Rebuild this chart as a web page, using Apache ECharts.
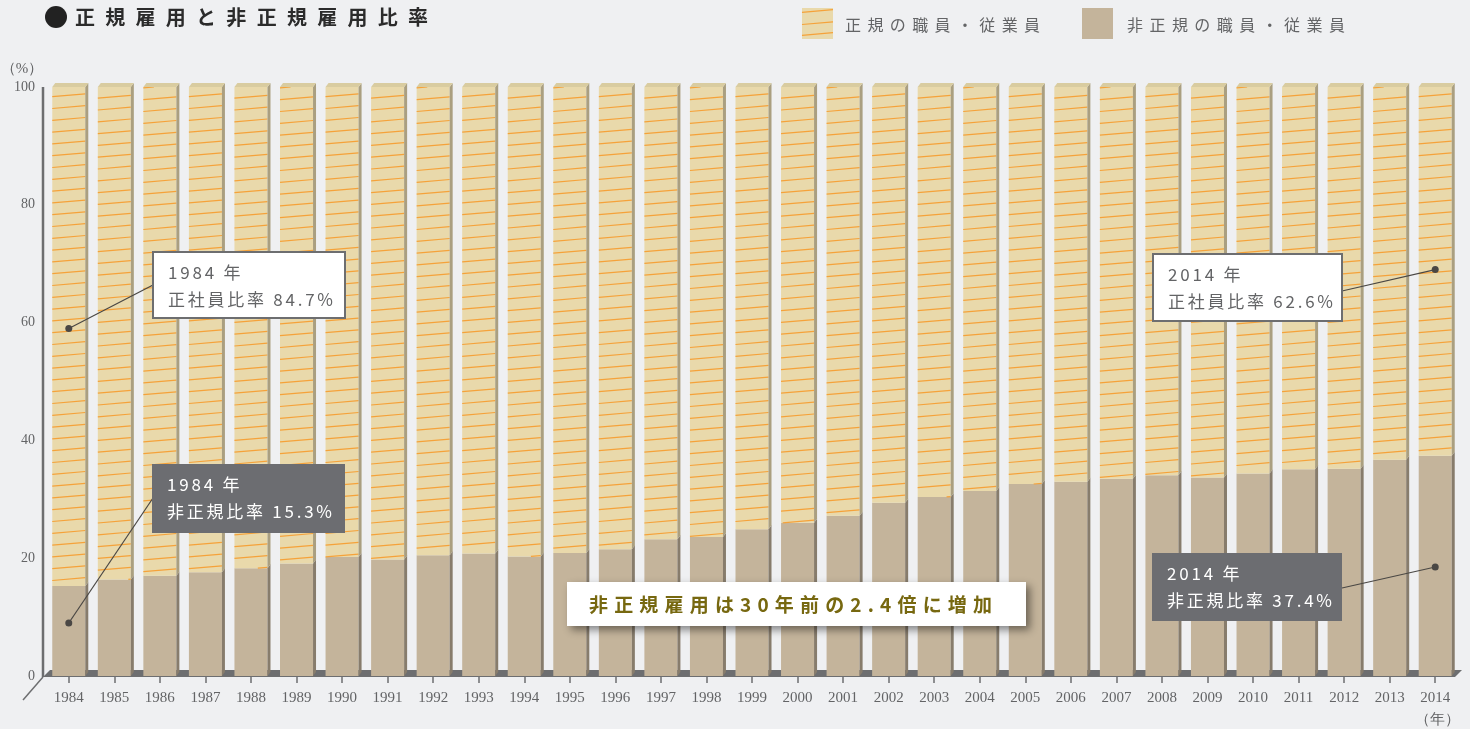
<!DOCTYPE html>
<html>
<head>
<meta charset="utf-8">
<script src="https://cdn.jsdelivr.net/npm/echarts@6/dist/echarts.min.js"></script>
<style>
html,body{margin:0;padding:0;background:#eff0f2;}
#chart{width:1470px;height:729px;}
</style>
</head>
<body>
<div id="chart"></div>
<script>
// ---------- DATA ----------
const titleText = '正規雇用と非正規雇用比率';
const seriesNames = ['正規の職員・従業員', '非正規の職員・従業員'];
const years = ['1984','1985','1986','1987','1988','1989','1990','1991','1992','1993','1994','1995','1996','1997','1998','1999','2000','2001','2002','2003','2004','2005','2006','2007','2008','2009','2010','2011','2012','2013','2014'];
const nonRegular = [15.3,16.4,17.0,17.6,18.3,19.1,20.2,19.8,20.5,20.8,20.3,20.9,21.5,23.2,23.6,24.9,26.0,27.2,29.4,30.4,31.4,32.6,33.0,33.5,34.1,33.7,34.4,35.1,35.2,36.7,37.4];
const regular    = [84.7,83.6,83.0,82.4,81.7,80.9,79.8,80.2,79.5,79.2,79.7,79.1,78.5,76.8,76.4,75.1,74.0,72.8,70.6,69.6,68.6,67.4,67.0,66.5,65.9,66.3,65.6,64.9,64.8,63.3,62.6];
const yUnit = '（%）';
const xUnit = '（年）';
const calloutText = '非正規雇用は30年前の2.4倍に増加';
// annotation: category index, value where the pointer dot sits, texts
const annotations = [
  {cat: 0,  dot: 59,   lines: ['1984 年', '正社員比率 ' + regular[0].toFixed(1) + '%'], dark: false},
  {cat: 0,  dot: 9,    lines: ['1984 年', '非正規比率 ' + nonRegular[0].toFixed(1) + '%'], dark: true},
  {cat: 30, dot: 69,   lines: ['2014 年', '正社員比率 ' + regular[30].toFixed(1) + '%'], dark: false},
  {cat: 30, dot: 18.5, lines: ['2014 年', '非正規比率 ' + nonRegular[30].toFixed(1) + '%'], dark: true}
];

// ---------- STYLE / LAYOUT ----------
const C = {
  bg: '#eff0f2', tan: '#c4b49b', tanSide: '#877c6c', yel: '#e9d9ab', yelSide: '#aa9f80',
  yelTop: '#d9cca0', stripe: '#f5a23a', floor: '#6d6e70', text: '#636466', dark: '#6c6d71', olive: '#776810'
};
const JP = "'Noto Sans CJK JP', sans-serif";
const SERIF = "'Liberation Serif', serif";
const STRIPE_GAP = 11.8, STRIPE_SLOPE = 0.085, STRIPE_PHASE = 96.7;
const boxLayout = [
  {x: 153, y: 252, w: 192, h: 66, lx: 153, ly: 285},
  {x: 152, y: 464, w: 193, h: 69, lx: 153, ly: 498},
  {x: 1153, y: 254, w: 189, h: 67, lx: 1342, ly: 291},
  {x: 1152, y: 553, w: 190, h: 68, lx: 1342, ly: 588}
];

function stripes(x, yt, w, yb, phase) {
  const d = w * STRIPE_SLOPE;
  const out = [];
  let yL = phase + Math.ceil((yt - phase) / STRIPE_GAP) * STRIPE_GAP;
  for (; yL <= yb + d; yL += STRIPE_GAP) {
    const t0 = Math.max(0, (yL - yb) / d);
    const t1 = Math.min(1, (yL - yt) / d);
    if (t1 <= t0) continue;
    out.push({type:'line', shape:{x1: x + w*t0, y1: yL - d*t0, x2: x + w*t1, y2: yL - d*t1},
      style:{stroke: C.stripe, lineWidth: 1.2}});
  }
  return out;
}

const mctx = document.createElement('canvas').getContext('2d');
function spaced(str, x, y, size, color, weight, family, targetW, spacing, z) {
  mctx.font = weight + ' ' + size + 'px ' + family;
  const chars = Array.from(str);
  const ws = chars.map(c => mctx.measureText(c).width);
  const sum = ws.reduce((a,b)=>a+b,0);
  const sp = targetW != null ? (targetW - sum) / (chars.length - 1) : spacing;
  const els = [];
  let cx = x;
  chars.forEach((ch,i) => {
    if (ch !== ' ') els.push({type:'text', x: cx, y: y, z: z || 10, silent: true,
      style: {text: ch, fontSize: size, fontWeight: weight, fontFamily: family, fill: color, align: 'left', verticalAlign: 'middle'}});
    cx += ws[i] + sp;
  });
  return els;
}

function barItem(api, base, len, isReg) {
  const i = api.value(0);
  const p0 = api.coord([i, base]);
  const p1 = api.coord([i, base + len]);
  const bw = api.size([1, 0])[0];
  const fw = bw * 0.725;
  const x = p0[0] - fw / 2;
  const yt = p1[1], yb = p0[1];
  let ch = [];
  ch.push({type:'rect', shape:{x:x, y:yt, width:fw, height:yb-yt}, style:{fill: isReg ? C.yel : C.tan}});
  if (isReg) ch = ch.concat(stripes(x, yt, fw, yb, STRIPE_PHASE + (i % 3) * 1.5));
  ch.push({type:'polygon', shape:{points:[[x+fw,yt],[x+fw+3,yt-4],[x+fw+3,yb-4],[x+fw,yb]]}, style:{fill: isReg ? C.yelSide : C.tanSide}});
  if (isReg) ch.push({type:'polygon', shape:{points:[[x,yt],[x+3,yt-4],[x+fw+3,yt-4],[x+fw,yt]]}, style:{fill: C.yelTop}});
  return {type:'group', children: ch};
}

const chart = echarts.init(document.getElementById('chart'));
const option = {
  backgroundColor: C.bg,
  animation: false,
  grid: {left: 46, right: 12, top: 87, bottom: 53},
  xAxis: {
    type: 'category', data: years,
    axisLine: {show: false},
    axisTick: {show: true, alignWithLabel: true, length: 7, lineStyle: {color: C.floor, width: 1.5}},
    axisLabel: {interval: 0, margin: 15, fontFamily: SERIF, fontSize: 15, color: C.text}
  },
  yAxis: {
    type: 'value', min: 0, max: 100, interval: 20,
    splitLine: {show: false}, axisLine: {show: false}, axisTick: {show: false},
    axisLabel: {margin: 11, fontFamily: SERIF, fontSize: 14, color: C.text}
  },
  series: [
    {
      type: 'custom', name: 'floor', silent: true, z: 1,
      data: [[0, 0]], encode: {x: 0, y: 1},
      renderItem: function(params, api) {
        const bw = api.size([1, 0])[0];
        const f = api.coord([0, 0]);
        const l = api.coord([years.length - 1, 0]);
        const top = api.coord([0, 100])[1];
        const yb = f[1];
        const x0 = f[0] - bw/2 - 3;
        const xr = l[0] + bw/2;
        return {type:'group', children:[
          {type:'polygon', shape:{points:[[x0,yb+1],[x0+7,yb-6],[xr+4,yb-6],[xr-3,yb+1]]}, style:{fill:C.floor}},
          {type:'line', shape:{x1:x0, y1:top, x2:x0, y2:yb+1}, style:{stroke:C.floor, lineWidth:2.5}},
          {type:'line', shape:{x1:x0, y1:yb+1, x2:x0-20, y2:yb+24}, style:{stroke:C.floor, lineWidth:1.5}}
        ]};
      }
    },
    {
      type: 'custom', name: seriesNames[1], z: 2, silent: true,
      data: years.map((y, i) => [i, nonRegular[i]]), encode: {x: 0, y: 1},
      renderItem: function(params, api) { return barItem(api, 0, api.value(1), false); }
    },
    {
      type: 'custom', name: seriesNames[0], z: 2, silent: true,
      data: years.map((y, i) => [i, nonRegular[i], regular[i]]), encode: {x: 0, y: [1, 2]},
      renderItem: function(params, api) { return barItem(api, api.value(1), api.value(2), true); }
    }
  ]
};
chart.setOption(option);

// ---------- GRAPHIC (title, legend, annotations) ----------
let g = [];
g.push({type:'circle', shape:{cx:56, cy:17, r:11}, style:{fill:'#222'}, z:10});
g = g.concat(spaced(titleText, 75, 17, 20, '#2b2b2b', 'bold', JP, 353));
g.push({type:'rect', shape:{x:802, y:8, width:31, height:31}, style:{fill: C.yel}, z:10});
[12.3, 24.5, 35.3].forEach(yy => g.push({type:'line', z:11, shape:{x1:802, y1:yy, x2:833, y2:yy-2.6}, style:{stroke:C.stripe, lineWidth:1.2}}));
g = g.concat(spaced(seriesNames[0], 845, 25, 16, C.text, 'normal', JP, 195));
g.push({type:'rect', shape:{x:1082, y:8, width:31, height:31}, style:{fill: C.tan}, z:10});
g = g.concat(spaced(seriesNames[1], 1127, 25, 16, C.text, 'normal', JP, 218));
g.push({type:'text', x:22, y:69, z:10, style:{text:yUnit, fontFamily:SERIF, fontSize:15, fill:C.text, align:'center', verticalAlign:'middle'}});
const lastX = chart.convertToPixel({gridIndex:0}, [years.length-1, 0])[0];
g.push({type:'text', x:lastX + 2, y:720, z:10, style:{text:xUnit, fontFamily:SERIF, fontSize:15, fill:C.text, align:'center', verticalAlign:'middle'}});

annotations.forEach((a, k) => {
  const L = boxLayout[k];
  const p = chart.convertToPixel({gridIndex:0}, [a.cat, a.dot]);
  g.push({type:'line', z:20, shape:{x1:L.lx, y1:L.ly, x2:p[0], y2:p[1]}, style:{stroke:'#4a4744', lineWidth:1.2}});
  g.push({type:'circle', z:21, shape:{cx:p[0], cy:p[1], r:3.5}, style:{fill:'#4a4744'}});
  g.push({type:'rect', z:22, shape:{x:L.x, y:L.y, width:L.w, height:L.h},
    style: a.dark ? {fill:C.dark} : {fill:'#ffffff', stroke:C.floor, lineWidth:2}});
  const col = a.dark ? '#ffffff' : C.text;
  g = g.concat(spaced(a.lines[0], L.x + 15, L.y + 21, 17, col, 'normal', JP, null, 2.8, 23));
  g = g.concat(spaced(a.lines[1], L.x + 15, L.y + 48, 17, col, 'normal', JP, 165, null, 23));
});

g.push({type:'rect', z:22, shape:{x:567, y:582, width:459, height:44},
  style:{fill:'#ffffff', shadowBlur:8, shadowOffsetX:4, shadowOffsetY:4, shadowColor:'rgba(0,0,0,0.45)'}});
g = g.concat(spaced(calloutText, 589, 605, 19, C.olive, 'bold', JP, 403, null, 23));

chart.setOption({graphic: {elements: g}});
</script>
</body>
</html>
